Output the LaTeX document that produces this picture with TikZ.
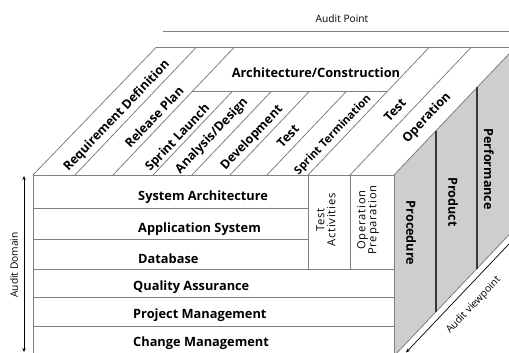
\documentclass[tikz,border=0pt]{standalone}
\usepackage{fontspec}
\setmainfont{Open Sans}
\usetikzlibrary{arrows.meta}
\definecolor{linegray}{RGB}{128,128,128}
\definecolor{facegray}{RGB}{206,206,206}
\definecolor{darkline}{RGB}{55,55,55}
\begin{document}
\begin{tikzpicture}[x=1pt,y=-1pt,
  edge/.style={draw=linegray, line width=0.8pt},
  divider/.style={draw=darkline, line width=1.1pt},
  rowlabel/.style={font=\bfseries\fontsize{12.8}{15}\selectfont, anchor=base west, inner sep=0pt},
  toplabel/.style={font=\bfseries\fontsize{12.5}{14}\selectfont, rotate=46.5, inner sep=0pt},
  sidelabel/.style={font=\bfseries\fontsize{12.6}{14}\selectfont, rotate=-90, inner sep=0pt},
  collabel/.style={font=\fontsize{11.2}{11}\selectfont\addfontfeature{LetterSpace=7}, rotate=90, align=center, inner sep=0pt},
  axislabel/.style={font=\fontsize{10.2}{12}\selectfont, inner sep=0pt},
  axisarrow/.style={draw=black, line width=0.7pt}
]
\useasboundingbox (0,0) rectangle (509,353);
\clip (0,0) rectangle (509,353);

% corners of the cube
\coordinate (ftl) at (33,175);
\coordinate (ftr) at (394,175);
\coordinate (fbl) at (33,362);
\coordinate (fbr) at (394,362);
\coordinate (btl) at (156,47.5);
\coordinate (btr) at (515,47.5);
\coordinate (bbr) at (515,228.5);
\coordinate (rbl) at (394,356);

% right face (audit viewpoints)
\fill[facegray] (ftr) -- (btr) -- (bbr) -- (rbl) -- cycle;
\draw[edge] (rbl) -- (bbr);

% front face (audit domain)
\draw[edge] (fbl) -- (ftl) -- (ftr) -- (fbr);
\foreach \yy in {208,239} \draw[edge] (33,\yy) -- (308,\yy);
\foreach \yy in {269,297,326} \draw[edge] (33,\yy) -- (394,\yy);
\foreach \xx in {308,350} \draw[edge] (\xx,175) -- (\xx,269);

% top face (audit points)
\draw[edge] (ftl) -- (btl) -- (btr);
\draw[edge] (ftr) -- (btr);
\foreach \xx in {75,113,308,350} \draw[edge] (\xx,175) -- ++(121,-127.5);
\foreach \xx in {153,192,230,267} \draw[edge] (\xx,175) -- ++(79,-83.3);
\draw[edge] (192,91.7) -- (387,91.7);

% right face dividers
\draw[divider] (436,130.7) -- (436,311.7);
\draw[divider] (477,87.5) -- (477,268.5);

% axes
\draw[edge] (163,31) -- (509,31);
\draw[axisarrow, {Stealth[length=4pt,width=3.4pt]}-{Stealth[length=4pt,width=3.4pt]}] (24,176) -- (24,352);
\draw[axisarrow, -{Stealth[length=4pt,width=3.4pt]}] (527,225) -- (406,352.5);

\node[axislabel] (ap) at (342,19) {Audit Point};
\node[axislabel, rotate=90] (ad) at (14,265) {Audit Domain};
\node[axislabel, rotate=46.5, anchor=base west] (av) at (450,334) {Audit viewpoint};

% top face labels
\node[toplabel] (t1) at (117,116) {Requirement Definition};
\node[toplabel] (t2) at (154,117) {Release Plan};
\node[toplabel] (t3) at (178,138) {Sprint Launch};
\node[toplabel] (t4) at (212,136) {Analysis/Design};
\node[toplabel] (t5) at (252,138) {Development};
\node[toplabel] (t6) at (288,136) {Test};
\node[toplabel, font=\bfseries\fontsize{11.2}{12}\selectfont] (t7) at (333,135) {Sprint Termination};
\node[toplabel] (t8) at (395,110) {Test};
\node[toplabel] (t9) at (427,118) {Operation};
\node[font=\bfseries\fontsize{12.8}{14}\selectfont, inner sep=0pt] (arch) at (316,73) {Architecture/Construction};

% front face labels
\node[rowlabel] (r1) at (138,200) {System Architecture};
\node[rowlabel] (r2) at (138,232.3) {Application System};
\node[rowlabel] (r3) at (138,263.3) {Database};
\node[rowlabel] (r4) at (133,290.7) {Quality Assurance};
\node[rowlabel] (r5) at (133,318.3) {Project Management};
\node[rowlabel] (r6) at (133,346.7) {Change Management};
\node[collabel] (c1) at (326,220) {Test\\Activities};
\node[collabel] (c2) at (368,220) {Operation\\Preparation};

% right face labels
\node[sidelabel] (s1) at (411,233) {Procedure};
\node[sidelabel] (s2) at (453,202) {Product};
\node[sidelabel] (s3) at (489,169) {Performance};
\end{tikzpicture}
\end{document}
